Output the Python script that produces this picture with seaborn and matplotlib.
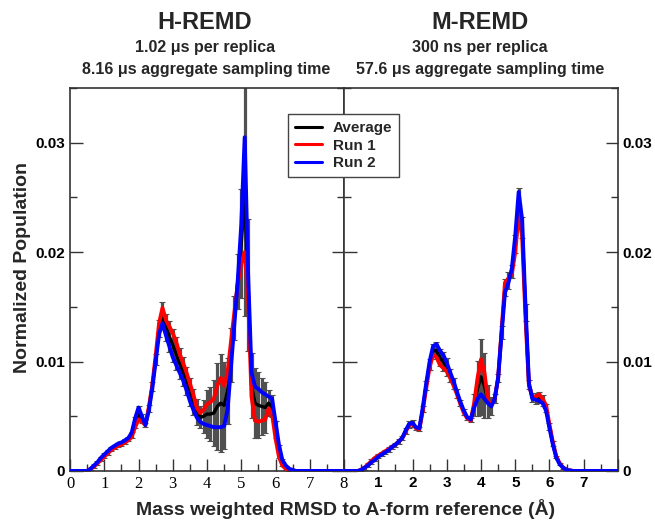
import numpy as np
import pandas as pd
import matplotlib
matplotlib.use("Agg")
import matplotlib.pyplot as plt
from matplotlib.lines import Line2D
from matplotlib.ticker import MultipleLocator
import seaborn as sns

# RMSD grid (Angstrom), 0.1 bins
rmsd = np.round(np.arange(0, 8.01, 0.1), 1)

# H-REMD (left panel)
h_run1 = [0, 0, 0, 0, 0, 0, 0.0002, 0.0004, 0.0007, 0.0010,
          0.0013, 0.0016, 0.0019, 0.0021, 0.0023, 0.0024, 0.0026, 0.0028, 0.0031, 0.0040,
          0.0047, 0.0045, 0.0042, 0.0058, 0.0078, 0.0105, 0.0135, 0.0149, 0.0138, 0.0132,
          0.0126, 0.0118, 0.0107, 0.0099, 0.0090, 0.0080, 0.0070, 0.0058, 0.0053, 0.0056,
          0.0061, 0.0063, 0.0066, 0.0078, 0.0085, 0.0078, 0.0090, 0.0118, 0.0145, 0.0172,
          0.0190, 0.0200, 0.0160, 0.0068, 0.0046, 0.0045, 0.0046, 0.0047, 0.0057, 0.0052,
          0.0030, 0.0013, 0.0005, 0.0002, 0.0001, 0, 0, 0, 0, 0,
          0, 0, 0, 0, 0, 0, 0, 0, 0, 0,
          0]
h_run2 = [0, 0, 0, 0, 0, 0, 0.0002, 0.0005, 0.0008, 0.0012,
          0.0015, 0.0018, 0.0021, 0.0023, 0.0025, 0.0026, 0.0028, 0.0030, 0.0035, 0.0048,
          0.0058, 0.0050, 0.0042, 0.0055, 0.0075, 0.0100, 0.0125, 0.0135, 0.0124, 0.0114,
          0.0104, 0.0097, 0.0090, 0.0083, 0.0074, 0.0064, 0.0056, 0.0049, 0.0045, 0.0043,
          0.0042, 0.0041, 0.0040, 0.0040, 0.0040, 0.0041, 0.0056, 0.0095, 0.0135, 0.0175,
          0.0225, 0.0305, 0.0180, 0.0090, 0.0077, 0.0075, 0.0072, 0.0070, 0.0068, 0.0066,
          0.0045, 0.0024, 0.0010, 0.0005, 0.0002, 0.0001, 0, 0, 0, 0,
          0, 0, 0, 0, 0, 0, 0, 0, 0, 0,
          0]
h_avg = [0, 0, 0, 0, 0, 0, 0.0002, 0.00045, 0.00075, 0.0011,
         0.0014, 0.0017, 0.0020, 0.0022, 0.0024, 0.0025, 0.0027, 0.0029, 0.0033, 0.0044,
         0.0053, 0.0048, 0.0042, 0.0057, 0.0077, 0.0102, 0.0130, 0.0142, 0.0131, 0.0123,
         0.0115, 0.0107, 0.0098, 0.0091, 0.0082, 0.0072, 0.0063, 0.0054, 0.0049, 0.0050,
         0.0052, 0.0052, 0.0053, 0.0059, 0.0062, 0.0060, 0.0073, 0.0106, 0.0140, 0.0173,
         0.0208, 0.0252, 0.0170, 0.0078, 0.0062, 0.0060, 0.0059, 0.0058, 0.0062, 0.0059,
         0.0038, 0.0018, 0.0008, 0.0003, 0.0001, 0.00005, 0, 0, 0, 0,
         0, 0, 0, 0, 0, 0, 0, 0, 0, 0,
         0]
h_err = [0, 0, 0, 0, 0, 0, 0.0001, 0.0002, 0.0002, 0.0002,
         0.0002, 0.0002, 0.0002, 0.0002, 0.0002, 0.0002, 0.0002, 0.0002, 0.0003, 0.0005,
         0.0006, 0.0004, 0.0002, 0.0003, 0.0004, 0.0005, 0.0008, 0.0012, 0.0012, 0.0014,
         0.0015, 0.0015, 0.0014, 0.0013, 0.0013, 0.0013, 0.0012, 0.0012, 0.0010, 0.0015,
         0.0022, 0.0025, 0.0030, 0.0040, 0.0045, 0.0040, 0.0030, 0.0025, 0.0020, 0.0025,
         0.0050, 0.0110, 0.0060, 0.0030, 0.0032, 0.0030, 0.0026, 0.0023, 0.0012, 0.0010,
         0.0008, 0.0006, 0.0003, 0.0002, 0.0001, 0, 0, 0, 0, 0,
         0, 0, 0, 0, 0, 0, 0, 0, 0, 0,
         0]

# M-REMD (right panel)
m_run1 = [0, 0, 0, 0, 0, 0.0001, 0.0003, 0.0006, 0.0009, 0.0012,
          0.0014, 0.0016, 0.0018, 0.0020, 0.0022, 0.0024, 0.0027, 0.0030, 0.0036, 0.0042,
          0.0043, 0.0039, 0.0038, 0.0055, 0.0076, 0.0095, 0.0106, 0.0104, 0.0097, 0.0094,
          0.0091, 0.0085, 0.0078, 0.0070, 0.0061, 0.0053, 0.0048, 0.0046, 0.0062, 0.0085,
          0.0102, 0.0090, 0.0065, 0.0060, 0.0066, 0.0085, 0.0128, 0.0172, 0.0176, 0.0180,
          0.0200, 0.0235, 0.0215, 0.0140, 0.0078, 0.0068, 0.0068, 0.0070, 0.0066, 0.0060,
          0.0042, 0.0026, 0.0013, 0.0007, 0.0003, 0.0001, 0.00005, 0, 0, 0,
          0, 0, 0, 0, 0, 0, 0, 0, 0, 0,
          0]
m_run2 = [0, 0, 0, 0, 0, 0.0001, 0.0003, 0.0005, 0.0008, 0.0010,
          0.0013, 0.0015, 0.0017, 0.0019, 0.0022, 0.0024, 0.0027, 0.0030, 0.0037, 0.0043,
          0.0044, 0.0040, 0.0039, 0.0058, 0.0080, 0.0100, 0.0114, 0.0116, 0.0110, 0.0106,
          0.0099, 0.0090, 0.0082, 0.0072, 0.0063, 0.0055, 0.0049, 0.0047, 0.0058, 0.0066,
          0.0070, 0.0066, 0.0062, 0.0059, 0.0066, 0.0085, 0.0125, 0.0163, 0.0172, 0.0185,
          0.0215, 0.0255, 0.0230, 0.0150, 0.0080, 0.0066, 0.0065, 0.0064, 0.0062, 0.0055,
          0.0039, 0.0024, 0.0012, 0.0006, 0.0003, 0.0001, 0.00005, 0, 0, 0,
          0, 0, 0, 0, 0, 0, 0, 0, 0, 0,
          0]
m_avg = [0, 0, 0, 0, 0, 0.0001, 0.0003, 0.00055, 0.00085, 0.0011,
         0.00135, 0.00155, 0.00175, 0.00195, 0.0022, 0.0024, 0.0027, 0.0030, 0.00365, 0.00425,
         0.00435, 0.00395, 0.00385, 0.00565, 0.0078, 0.00975, 0.0110, 0.0110, 0.01035, 0.0100,
         0.0095, 0.00875, 0.0080, 0.0071, 0.0062, 0.0054, 0.00485, 0.00465, 0.0060, 0.00755,
         0.0086, 0.0078, 0.00635, 0.00595, 0.0066, 0.0085, 0.01265, 0.01675, 0.0174, 0.01825,
         0.02075, 0.0245, 0.02225, 0.0145, 0.0079, 0.0067, 0.00665, 0.0067, 0.0064, 0.00575,
         0.00405, 0.0025, 0.00125, 0.00065, 0.0003, 0.0001, 0.00005, 0, 0, 0,
         0, 0, 0, 0, 0, 0, 0, 0, 0, 0,
         0]
m_err = [0, 0, 0, 0, 0, 0.0001, 0.0002, 0.0002, 0.0002, 0.0002,
         0.0002, 0.0002, 0.0002, 0.0002, 0.0002, 0.0002, 0.0002, 0.0002, 0.0003, 0.0003,
         0.0003, 0.0002, 0.0002, 0.0003, 0.0004, 0.0005, 0.0006, 0.0008, 0.0008, 0.0009,
         0.0008, 0.0006, 0.0005, 0.0004, 0.0003, 0.0003, 0.0002, 0.0002, 0.0010, 0.0025,
         0.0035, 0.0030, 0.0015, 0.0008, 0.0004, 0.0004, 0.0006, 0.0008, 0.0008, 0.0006,
         0.0008, 0.0014, 0.0010, 0.0008, 0.0004, 0.0004, 0.0005, 0.0005, 0.0005, 0.0004,
         0.0003, 0.0002, 0.0001, 0.0001, 0.0001, 0, 0, 0, 0, 0,
         0, 0, 0, 0, 0, 0, 0, 0, 0, 0,
         0]

series_names = ["Average", "Run 1", "Run 2"]
colors = {"Average": "black", "Run 1": "#ff0000", "Run 2": "#0000ff"}
widths = {"Average": 2.4, "Run 1": 2.8, "Run 2": 2.8}

sns.set_style("ticks")
plt.rcParams['font.family'] = ['Liberation Sans', 'DejaVu Sans']
plt.rcParams['font.weight'] = 'bold'

fig = plt.figure(figsize=(6.55, 5.25), dpi=100)
ax1 = fig.add_axes([0.1069, 0.1029, 0.4183, 0.7295])
ax2 = fig.add_axes([0.5252, 0.1029, 0.4183, 0.7295])

panels = [(ax1, h_avg, h_run1, h_run2, h_err), (ax2, m_avg, m_run1, m_run2, m_err)]
for ax, avg, r1, r2, err in panels:
    df = pd.DataFrame({"rmsd": rmsd, "Average": avg, "Run 1": r1, "Run 2": r2})
    ax.errorbar(rmsd, avg, yerr=err, fmt='none', ecolor='#505050',
                elinewidth=2.3, capsize=2.0, capthick=0.8, zorder=1)
    for name in series_names:
        sns.lineplot(data=df, x="rmsd", y=name, ax=ax, color=colors[name],
                     linewidth=widths[name], zorder=3)
    ax.set_xlim(0, 8)
    ax.set_ylim(0, 0.035)
    ax.set_xlabel("")
    ax.set_ylabel("")
    ax.xaxis.set_minor_locator(MultipleLocator(0.5))
    ax.yaxis.set_minor_locator(MultipleLocator(0.005))
    ax.tick_params(which='both', direction='in', top=False, right=True, left=True,
                   bottom=True, colors='#333333', labelcolor='black')
    ax.tick_params(which='major', length=9, width=1)
    ax.tick_params(which='minor', length=5, width=1)
    for s in ax.spines.values():
        s.set_color('#333333')
        s.set_linewidth(1.2)
    ax.set_yticks([0, 0.01, 0.02, 0.03])
    ax.set_xticks(range(9))

ax1.set_yticklabels(["0", "0.01", "0.02", "0.03"], fontsize=11, fontweight='bold')
ax1.tick_params(labelleft=True, labelright=False)
ax1.set_xticklabels([str(i) for i in range(9)], fontsize=12,
                    family='Liberation Serif', fontweight='normal')

ax2.yaxis.tick_right()
ax2.tick_params(which='both', left=True, right=True, labelleft=False, labelright=True)
ax2.set_yticklabels(["0", "0.01", "0.02", "0.03"], fontsize=11, fontweight='bold')
ax2.set_xticklabels([""] + [str(i) for i in range(1, 8)] + [""], fontsize=11,
                    fontweight='bold')

# titles
fig.text(0.313, 0.958, "H-REMD", ha='center', va='center', fontsize=17, fontweight='bold')
fig.text(0.313, 0.909, "1.02 \u03bcs per replica", ha='center', va='center',
         fontsize=11.5, fontweight='bold')
fig.text(0.315, 0.867, "8.16 \u03bcs aggregate sampling time", ha='center', va='center',
         fontsize=11.5, fontweight='bold')
fig.text(0.733, 0.958, "M-REMD", ha='center', va='center', fontsize=17, fontweight='bold')
fig.text(0.733, 0.909, "300 ns per replica", ha='center', va='center',
         fontsize=11.5, fontweight='bold')
fig.text(0.733, 0.867, "57.6 \u03bcs aggregate sampling time", ha='center', va='center',
         fontsize=11.5, fontweight='bold')

fig.text(0.034, 0.49, "Normalized Population", rotation=90, ha='center', va='center',
         fontsize=14, fontweight='bold')
fig.text(0.527, 0.03, "Mass weighted RMSD to A-form reference (\u00c5)", ha='center',
         va='center', fontsize=14, fontweight='bold')

handles = [Line2D([0], [0], color=colors[n], lw=2.2) for n in series_names]
leg = fig.legend(handles, series_names, loc='upper left',
                 bbox_to_anchor=(0.4397, 0.7829), frameon=True, fancybox=False,
                 edgecolor='#444444', framealpha=1, prop={'weight': 'bold', 'size': 11},
                 handlelength=1.8, handletextpad=0.7, labelspacing=0.25,
                 borderpad=0.45, borderaxespad=0)
leg.get_frame().set_linewidth(1.0)

fig.savefig("out.png", dpi=100)
